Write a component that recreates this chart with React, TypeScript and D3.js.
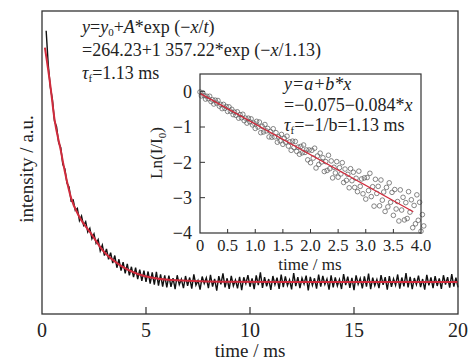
import * as d3 from "d3";

// main decay trace: intensity sampled every 0.1 ms starting at 0.2 ms
const traceStart = 0.2;
const traceStep = 0.1;
const traceValues = [
  1600, 1420, 1300, 1235, 1120, 1090, 1005, 980, 890, 865,
  790, 770, 695, 700, 645, 655, 590, 615, 565, 585,
  530, 550, 495, 520, 470, 490, 430, 460, 405, 440,
  385, 420, 365, 405, 340, 385, 325, 370, 310, 360,
  300, 345, 290, 340, 280, 330, 270, 325, 265, 320,
  255, 315, 250, 318, 245, 305, 240, 300, 235,
  298, 238, 285, 226, 300, 250, 279, 232, 296, 244,
  288, 229, 305, 247, 272, 224, 293, 256, 286, 231,
  302, 240, 281, 218, 295, 252, 310, 236, 284, 227,
  297, 243, 275, 230, 292, 221, 289, 255, 301, 239,
  283, 226, 299, 248, 315, 233, 290, 241, 280, 222,
  296, 250, 287, 228, 304, 237, 294, 245, 276, 225,
  312, 242, 290, 231, 285, 253, 298, 220, 291, 246,
  284, 229, 303, 239, 296, 251, 280, 224, 300, 236,
  289, 243, 278, 227, 306, 248, 293, 233, 286, 221,
  299, 252, 283, 230, 294, 240, 309, 226, 287, 245,
  277, 232, 301, 249, 290, 223, 296, 238, 281, 247,
  304, 229, 288, 241, 311, 235, 292, 226, 285, 250,
  298, 237, 280, 224, 302, 246, 289, 231, 295, 243,
  283, 228, 300, 251, 290, 234, 306, 240, 287, 236,
];

// exponential fit
const fitTime = [0.14, 0.4, 0.6, 0.9, 1.1, 1.4, 1.8, 2.4, 2.9, 3.8, 4.6, 6.2, 8.6, 12, 16, 20];
const fitIntensity = [1510, 1310, 1130, 965, 850, 710, 610, 515, 435, 350, 307, 275, 266, 264, 264, 264];

// inset: Ln(I/I0) sampled every 0.025 ms
const insetStep = 0.025;
const insetValues = [
  -0.01, -0.12, -0.03, -0.11, -0.21, -0.13, -0.2, -0.13, -0.28, -0.23,
  -0.35, -0.24, -0.32, -0.25, -0.41, -0.36, -0.48, -0.36, -0.47, -0.42,
  -0.56, -0.43, -0.55, -0.5, -0.65, -0.58, -0.67, -0.57, -0.75, -0.65,
  -0.74, -0.64, -0.82, -0.75, -0.89, -0.75, -0.85, -0.77, -0.94, -0.89,
  -1.04, -0.84, -1.0, -0.86, -1.16, -0.98, -1.14, -0.93, -1.11, -1.04,
  -1.28, -1.13, -1.29, -1.05, -1.28, -1.16, -1.43, -1.28, -1.39, -1.21,
  -1.49, -1.32, -1.43, -1.26, -1.54, -1.42, -1.66, -1.4, -1.58, -1.41,
  -1.69, -1.57, -1.77, -1.55, -1.73, -1.51, -1.72, -1.65, -1.93, -1.65,
  -2.01, -1.66, -1.88, -1.6, -2.16, -1.82, -2.06, -1.74, -1.99, -1.87,
  -2.26, -1.98, -2.23, -1.8, -2.18, -1.96, -2.44, -2.14, -2.3, -1.98,
  -2.42, -2.15, -2.33, -2.01, -2.57, -2.19, -2.51, -2.34, -2.72, -2.18,
  -2.52, -2.28, -2.71, -2.45, -2.83, -2.25, -2.68, -2.47, -2.89, -2.44,
  -3.04, -2.43, -2.8, -2.31, -2.97, -2.69, -3.24, -2.48, -2.88, -2.68,
  -3.23, -2.5, -3.07, -2.84, -3.39, -2.71, -3.26, -2.58, -3.13, -2.85,
  -3.5, -2.77, -3.32, -3.11, -3.66, -2.78, -3.35, -2.99, -3.63, -3.14,
  -3.59, -2.83, -3.41, -3.06, -3.85, -3.22, -3.74, -2.92, -3.64, -3.13,
  -3.95, -3.48, -3.8,
];

const insetFitX = [0, 3.86];
const insetFitY = [-0.05, -3.4];

const mainTicks = [0, 5, 10, 15, 20];
const insetXTicks = [0, 0.5, 1.0, 1.5, 2.0, 2.5, 3.0, 3.5, 4.0];
const insetYTicks = [0, -1, -2, -3, -4];

const serif = "'Liberation Serif', 'Times New Roman', serif";
const red = "#d12b3c";

export default function App() {
  const W = 472;
  const H = 360;

  const x = d3.scaleLinear().domain([0, 20]).range([42, 458]);
  const y = d3.scaleLinear().domain([94, 1705]).range([314, 11]);

  const ix = d3.scaleLinear().domain([0, 4]).range([200, 421]);
  const iy = d3.scaleLinear().domain([-4, 0.5]).range([233, 74]);

  const tracePath = d3
    .line<number>()
    .x((_, i) => x(traceStart + i * traceStep))
    .y((d) => y(d))(traceValues);

  const fitPath = d3
    .line<number>()
    .x((d) => x(d))
    .y((_, i) => y(fitIntensity[i]))
    .curve(d3.curveMonotoneX)(fitTime);

  const insetFitPath = d3
    .line<number>()
    .x((d) => ix(d))
    .y((_, i) => iy(insetFitY[i]))(insetFitX);

  return (
    <svg
      width={W}
      height={H}
      style={{ position: "absolute", left: 0, top: 0, background: "#fff" }}
      fontFamily={serif}
    >
      {/* main plot */}
      <path d={tracePath!} fill="none" stroke="#111" strokeWidth={1.4} />
      <path d={fitPath!} fill="none" stroke={red} strokeWidth={2} />
      <rect x={42} y={11} width={416} height={303} fill="none" stroke="#333" strokeWidth={1.3} />
      {mainTicks.map((t) => (
        <g key={t}>
          {t > 0 && t < 20 && (
            <line x1={x(t)} x2={x(t)} y1={314} y2={307} stroke="#333" strokeWidth={1.2} />
          )}
          <text x={x(t)} y={337} fontSize={20} textAnchor="middle" fill="#222">
            {t}
          </text>
        </g>
      ))}
      <text x={250} y={357} fontSize={19} textAnchor="middle" fill="#222">
        time / ms
      </text>
      <text transform="translate(33,169) rotate(-90)" fontSize={19} textAnchor="middle" fill="#222">
        intensity / a.u.
      </text>

      <text x={82} y={33} fontSize={18} fill="#222">
        <tspan fontStyle="italic">y</tspan>=<tspan fontStyle="italic">y</tspan>
        <tspan fontSize={11} dy={3}>0</tspan>
        <tspan dy={-3}>+</tspan>
        <tspan fontStyle="italic">A</tspan>*exp (−<tspan fontStyle="italic">x</tspan>/
        <tspan fontStyle="italic">t</tspan>)
      </text>
      <text x={82} y={56} fontSize={18} fill="#222">
        =264.23+1 357.22*exp (−<tspan fontStyle="italic">x</tspan>/1.13)
      </text>
      <text x={82} y={79} fontSize={18} fill="#222">
        <tspan fontStyle="italic">τ</tspan>
        <tspan fontSize={11} dy={3}>f</tspan>
        <tspan dy={-3}>=1.13 ms</tspan>
      </text>

      {/* inset */}
      <rect x={200} y={74} width={221} height={159} fill="#fff" />
      {insetValues.map((v, i) => (
        <circle
          key={i}
          cx={ix(i * insetStep)}
          cy={iy(v)}
          r={2.3}
          fill="none"
          stroke="#5e5e5e"
          strokeWidth={0.75}
        />
      ))}
      <path d={insetFitPath!} fill="none" stroke={red} strokeWidth={1.3} />
      <rect x={200} y={74} width={221} height={159} fill="none" stroke="#333" strokeWidth={1.2} />
      {insetXTicks.map((t) => (
        <g key={t}>
          {t > 0 && t < 4 && (
            <line x1={ix(t)} x2={ix(t)} y1={233} y2={229} stroke="#333" strokeWidth={1} />
          )}
          <text x={ix(t)} y={251} fontSize={16.5} textAnchor="middle" fill="#222">
            {t === 0 ? "0" : t.toFixed(1)}
          </text>
        </g>
      ))}
      {insetYTicks.map((t) => (
        <g key={t}>
          {t > -4 && (
            <line x1={200} x2={205} y1={iy(t)} y2={iy(t)} stroke="#333" strokeWidth={1} />
          )}
          <text x={192} y={iy(t)} dy="0.35em" fontSize={18} textAnchor="end" fill="#222">
            {t === 0 ? "0" : "−" + Math.abs(t)}
          </text>
        </g>
      ))}
      <text x={310} y={270} fontSize={17} textAnchor="middle" fill="#222">
        time / ms
      </text>
      <text transform="translate(162,153) rotate(-90)" fontSize={17} textAnchor="middle" fill="#222">
        Ln(I/I<tspan fontSize={11} dy={4}>0</tspan>
        <tspan dy={-4}>)</tspan>
      </text>

      <text x={284} y={90} fontSize={18} fill="#222" fontStyle="italic">
        y=a+b*x
      </text>
      <text x={284} y={111} fontSize={18} fill="#222">
        =−0.075−0.084*<tspan fontStyle="italic">x</tspan>
      </text>
      <text x={284} y={131} fontSize={18} fill="#222">
        <tspan fontStyle="italic">τ</tspan>
        <tspan fontSize={11} dy={3}>f</tspan>
        <tspan dy={-3}>=−1/b=1.13 ms</tspan>
      </text>
    </svg>
  );
}
